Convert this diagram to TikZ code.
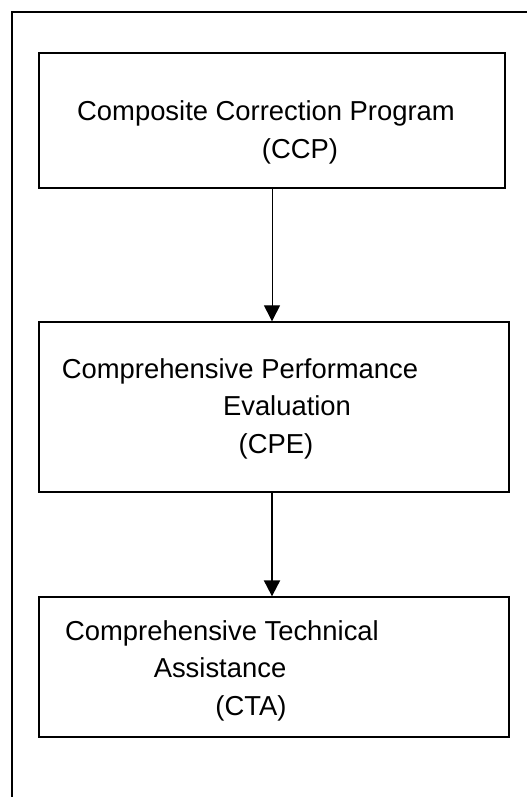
\documentclass[tikz,border=0pt]{standalone}
\usepackage{fontspec}
\setmainfont{Liberation Sans}
\usetikzlibrary{arrows.meta}
\begin{document}
\begin{tikzpicture}[x=1bp,y=-1bp,
  stage/.style={draw=black, line width=1.3bp, inner sep=0pt, rectangle},
  txt/.style={anchor=base, inner sep=0pt, font=\fontsize{27.4bp}{32bp}\selectfont},
  flow/.style={-{Triangle[width=16bp,length=16bp]}, line width=1bp}]
\useasboundingbox (0,0) rectangle (527,797);
% page frame: left and top rules only
\draw[line width=2.5bp] (12,797) -- (12,12) -- (527,12);

% the three stages
\node[stage, minimum width=466bp, minimum height=135bp] (ccp) at (272,120.5) {};
\node[stage, minimum width=470bp, minimum height=170bp] (cpe) at (274,407) {};
\node[stage, minimum width=470bp, minimum height=140bp] (cta) at (274,667) {};

% stage labels
\node[txt] (ccpA) at (266,120) {Composite Correction Program};
\node[txt] (ccpB) at (300,158) {(CCP)};

\node[txt] (cpeA) at (240,378) {Comprehensive Performance};
\node[txt] (cpeB) at (287,415) {Evaluation};
\node[txt] (cpeC) at (276,453) {(CPE)};

\node[txt] (ctaA) at (222,640) {Comprehensive Technical};
\node[txt] (ctaB) at (220,677) {Assistance};
\node[txt] (ctaC) at (251,715) {(CTA)};

% flow between stages
\draw[flow] (ccp.south) -- (ccp.south |- cpe.north);
\draw[flow, line width=2bp] (cpe.south -| ccp.south) -- (ccp.south |- cta.north);
\end{tikzpicture}
\end{document}
